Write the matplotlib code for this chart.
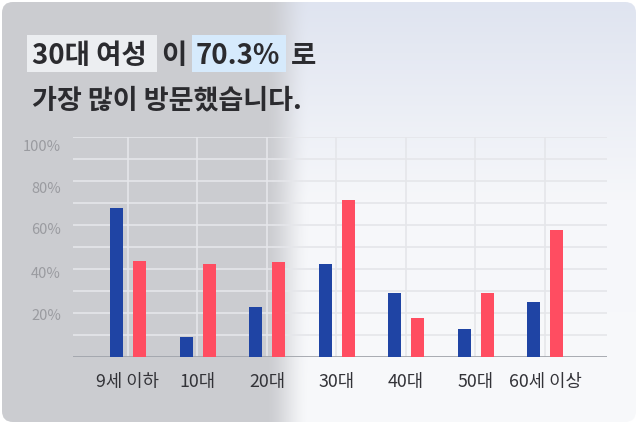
import numpy as np
import matplotlib
matplotlib.use('Agg')
import matplotlib.pyplot as plt
from matplotlib.patches import FancyBboxPatch, Rectangle
import matplotlib.transforms as mtransforms

categories = ['9세 이하', '10대', '20대', '30대', '40대', '50대', '60세 이상']
male = [67.6, 9.2, 22.7, 42.3, 29.2, 12.5, 24.8]
female = [43.6, 42.3, 43.0, 71.4, 17.5, 29.2, 57.8]
ytick_values = [100, 80, 60, 40, 20]
ytick_labels = ['100%', '80%', '60%', '40%', '20%']
title_parts = ['30대 여성', '이', '70.3%', '로']
title_line2 = '가장 많이 방문했습니다.'

plt.rcParams['font.family'] = ['Noto Sans CJK KR', 'DejaVu Sans']

W, H = 640, 424
fig = plt.figure(figsize=(6.4, 4.24), dpi=100)
fig.patch.set_facecolor('white')

# ---- background card with gradient ----
bg = fig.add_axes([0, 0, 1, 1], zorder=0)
bg.set_xlim(0, W)
bg.set_ylim(H, 0)
bg.axis('off')
yy, xx = np.mgrid[0:H, 0:W].astype(float)
left_c = np.array([203, 204, 208]) / 255.0
top_r = np.array([223, 228, 240]) / 255.0
mid_r = np.array([246, 247, 250]) / 255.0
bot_r = np.array([248, 249, 251]) / 255.0
s = np.clip(yy / 200.0, 0, 1)[..., None]
s2 = np.clip((yy - 200) / 224.0, 0, 1)[..., None]
right = top_r * (1 - s) + mid_r * s
right = right * (1 - s2) + bot_r * s2
t = np.clip((xx - 264) / 46.0, 0, 1)
t = (t * t * (3 - 2 * t))[..., None]
img = left_c * (1 - t) + right * t
im = bg.imshow(img, extent=[0, W, H, 0], aspect='auto', interpolation='bilinear', zorder=0)
card = FancyBboxPatch((2, 2), 634, 420, boxstyle='round,pad=0,rounding_size=11',
                      transform=bg.transData, facecolor='none', edgecolor='none')
bg.add_patch(card)
im.set_clip_path(card)

# title highlight boxes
bg.add_patch(Rectangle((27.3, 35), 129.4, 36.7, facecolor='#eceef1', edgecolor='none', zorder=1))
bg.add_patch(Rectangle((191.7, 35), 94, 36.7, facecolor='#d6eafc', edgecolor='none', zorder=1))
tc = '#2b2b2f'
tfs = 19.8
xs = [32, 161, 196, 291]
for x, p in zip(xs, title_parts):
    bg.text(x, 63.5, p, fontsize=tfs, fontweight='bold', color=tc, va='baseline', ha='left', zorder=2)
bg.text(32, 108.5, title_line2, fontsize=19.5, fontweight='bold', color=tc, va='baseline', ha='left', zorder=2)

# ---- chart ----
ax = fig.add_axes([73 / W, 1 - 356.7 / H, 534 / W, 219.4 / H], zorder=1)
ax.set_facecolor('none')
x = np.arange(len(categories))
ax.set_xlim(-0.791, 6.892)
ax.set_ylim(0, 100)
for sp in ax.spines.values():
    sp.set_visible(False)

gc = '#e5e6ea'
ax.hlines(np.arange(10, 101, 10), -0.791, 6.892, color=gc, lw=1.2, zorder=1)
ax.vlines(x, 0, 100, color=gc, lw=1.2, zorder=1)
ax.axhline(0, color='#a2a5ac', lw=1.3, zorder=2)

bw = 0.187
ax.bar(x - 0.165, male, width=bw, color='#1f44a4', zorder=3)
ax.bar(x + 0.168, female, width=bw, color='#ff4d61', zorder=3)

ax.set_xticks(x)
ax.set_xticklabels(categories, fontsize=12.8, color='#333338')
ax.tick_params(axis='x', length=0, pad=12)
ax.set_yticks([])

label_offsets = [-10, -8, -5, -5, -3]
for v, lab, off in zip(ytick_values, ytick_labels, label_offsets):
    tr = ax.get_yaxis_transform() + mtransforms.ScaledTranslation(0, off / 100.0, fig.dpi_scale_trans)
    ax.text(-0.0225, v, lab, transform=tr, ha='right', va='center', fontsize=10.5, color='#9a9ba0')

fig.savefig('out.png', dpi=100)
